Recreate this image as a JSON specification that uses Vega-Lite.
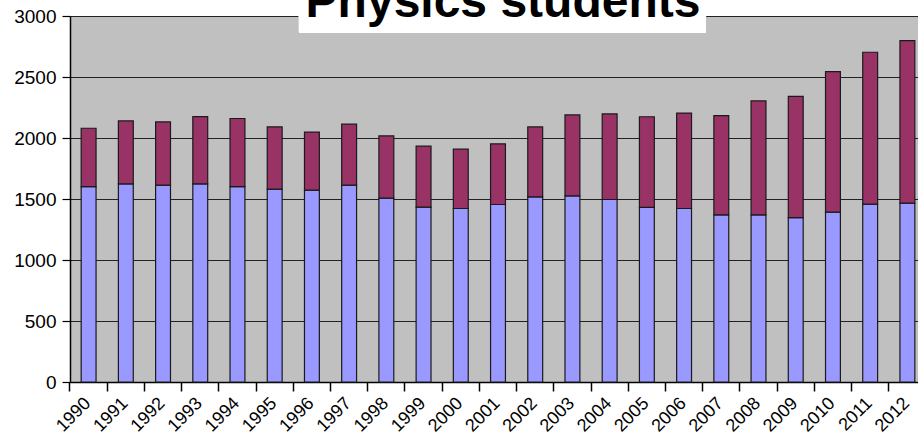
{
  "$schema": "https://vega.github.io/schema/vega-lite/v6.json",
  "autosize": {"type": "none"},
  "padding": {"left": 70, "top": 16, "right": -8, "bottom": 60},
  "width": 856,
  "height": 366,
  "background": "white",
  "title": {
    "text": "Physics students",
    "font": "Liberation Sans",
    "fontSize": 48,
    "fontWeight": "bold",
    "color": "black",
    "anchor": "middle",
    "baseline": "alphabetic",
    "offset": -58,
    "dx": 5
  },
  "config": {
    "view": {"fill": "#C0C0C0", "stroke": null},
    "axis": {"labelFont": "Liberation Sans", "labelColor": "black", "domainColor": "black", "tickColor": "black"}
  },
  "data": {
    "values": [
      {"year": "1990", "series": "Lower", "value": 1602}, {"year": "1990", "series": "Upper", "value": 478},
      {"year": "1991", "series": "Lower", "value": 1624}, {"year": "1991", "series": "Upper", "value": 516},
      {"year": "1992", "series": "Lower", "value": 1613}, {"year": "1992", "series": "Upper", "value": 519},
      {"year": "1993", "series": "Lower", "value": 1624}, {"year": "1993", "series": "Upper", "value": 552},
      {"year": "1994", "series": "Lower", "value": 1602}, {"year": "1994", "series": "Upper", "value": 558},
      {"year": "1995", "series": "Lower", "value": 1581}, {"year": "1995", "series": "Upper", "value": 510},
      {"year": "1996", "series": "Lower", "value": 1572}, {"year": "1996", "series": "Upper", "value": 476},
      {"year": "1997", "series": "Lower", "value": 1613}, {"year": "1997", "series": "Upper", "value": 500},
      {"year": "1998", "series": "Lower", "value": 1507}, {"year": "1998", "series": "Upper", "value": 510},
      {"year": "1999", "series": "Lower", "value": 1433}, {"year": "1999", "series": "Upper", "value": 500},
      {"year": "2000", "series": "Lower", "value": 1422}, {"year": "2000", "series": "Upper", "value": 486},
      {"year": "2001", "series": "Lower", "value": 1455}, {"year": "2001", "series": "Upper", "value": 497},
      {"year": "2002", "series": "Lower", "value": 1518}, {"year": "2002", "series": "Upper", "value": 573},
      {"year": "2003", "series": "Lower", "value": 1526}, {"year": "2003", "series": "Upper", "value": 663},
      {"year": "2004", "series": "Lower", "value": 1496}, {"year": "2004", "series": "Upper", "value": 701},
      {"year": "2005", "series": "Lower", "value": 1432}, {"year": "2005", "series": "Upper", "value": 742},
      {"year": "2006", "series": "Lower", "value": 1422}, {"year": "2006", "series": "Upper", "value": 782},
      {"year": "2007", "series": "Lower", "value": 1370}, {"year": "2007", "series": "Upper", "value": 814},
      {"year": "2008", "series": "Lower", "value": 1370}, {"year": "2008", "series": "Upper", "value": 934},
      {"year": "2009", "series": "Lower", "value": 1348}, {"year": "2009", "series": "Upper", "value": 994},
      {"year": "2010", "series": "Lower", "value": 1392}, {"year": "2010", "series": "Upper", "value": 1152},
      {"year": "2011", "series": "Lower", "value": 1458}, {"year": "2011", "series": "Upper", "value": 1245},
      {"year": "2012", "series": "Lower", "value": 1466}, {"year": "2012", "series": "Upper", "value": 1332}
    ]
  },
  "layer": [
    {
      "mark": {"type": "bar", "stroke": "#1a1a1a", "strokeWidth": 1.2},
      "encoding": {
        "x": {
          "field": "year", "type": "nominal", "sort": null,
          "scale": {"paddingInner": 0.6, "paddingOuter": 0.3},
          "axis": {
            "title": null, "labelAngle": -45, "labelFontSize": 18, "tickSize": 9,
            "bandPosition": -0.75, "labelPadding": 3, "labelOffset": -7, "grid": false, "domainWidth": 1.5, "tickWidth": 1.5
          }
        },
        "y": {
          "field": "value", "type": "quantitative", "stack": "zero",
          "scale": {"domain": [0, 3000], "nice": false},
          "axis": {
            "title": null, "values": [0, 500, 1000, 1500, 2000, 2500, 3000], "format": "d",
            "labelFontSize": 19, "tickSize": 8, "labelPadding": 6,
            "grid": true, "gridColor": "#222", "gridWidth": 1.2,
            "domainWidth": 1.5, "tickWidth": 1.2
          }
        },
        "color": {
          "field": "series", "type": "nominal",
          "scale": {"domain": ["Lower", "Upper"], "range": ["#9999FF", "#993366"]},
          "legend": null
        },
        "order": {"field": "series", "sort": "ascending"}
      }
    },
    {
      "mark": {"type": "rect", "fill": "white"},
      "encoding": {
        "x": {"datum": 0.2675, "type": "quantitative", "scale": {"domain": [0, 1]}, "axis": null},
        "x2": {"datum": 0.743},
        "y": {"datum": 2865, "type": "quantitative"},
        "y2": {"datum": 3000}
      }
    }
  ],
  "resolve": {"scale": {"x": "independent"}}
}
